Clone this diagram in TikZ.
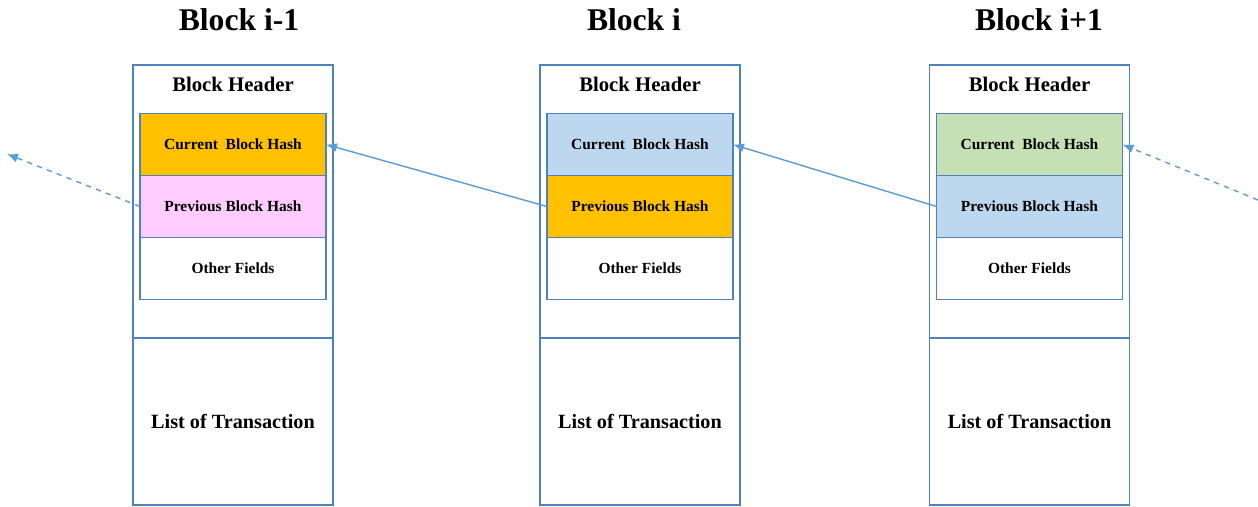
\documentclass[tikz,border=0pt]{standalone}
\usepackage{fontspec}
\setmainfont{Liberation Serif}
\usetikzlibrary{positioning,arrows.meta}

\definecolor{boxline}{HTML}{4F81BD}
\definecolor{linkline}{HTML}{5B9BD5}
\definecolor{orangefill}{HTML}{FFC000}
\definecolor{pinkfill}{HTML}{FFCCFF}
\definecolor{bluefill}{HTML}{BDD7EE}
\definecolor{greenfill}{HTML}{C5E0B4}

\tikzset{
    title/.style={font=\bfseries\fontsize{18}{20}\selectfont},
    headbox/.style={draw=boxline, line width=0.8pt, outer sep=0pt, minimum width=4cm, minimum height=5.46cm},
    txbox/.style={draw=boxline, line width=0.8pt, outer sep=0pt, minimum width=4cm, minimum height=3.34cm, font=\bfseries\fontsize{11.5}{13}\selectfont},
    headlabel/.style={font=\bfseries\fontsize{11.8}{13}\selectfont},
    field/.style={draw=boxline, line width=0.8pt, outer sep=0pt, minimum width=3.72cm, minimum height=1.24cm, inner sep=0pt, font=\bfseries\fontsize{8.8}{10}\selectfont},
    link/.style={draw=linkline, line width=0.8pt, -{Latex[length=2.2mm, width=1.8mm]}},
    dashlink/.style={link, dashed}
}

\begin{document}
\begin{tikzpicture}[x=0.02cm, y=-0.02cm]
    % the frame
    \useasboundingbox (0,0) rectangle (1258,507);

    % the blocks
    \foreach \n/\x/\tx/\cc/\pc/\lbl in {a/233/239/orangefill/pinkfill/i-1, b/640/634/bluefill/orangefill/i, c/1029.5/1039/greenfill/bluefill/i+1} {
        \node[title] (title\n) at (\tx, 20) {Block \lbl};
        \node[headbox] (head\n) at (\x, 201.5) {};
        \node[txbox, below=0pt of head\n] (tx\n) {List of Transaction};
        \node[headlabel] (label\n) at (\x, 84) {Block Header};
        \node[field, fill=\cc] (cur\n) at (\x, 144.5) {Current\ \ Block Hash};
        \node[field, fill=\pc, below=0pt of cur\n] (prev\n) {Previous Block Hash};
        \node[field, below=0pt of prev\n] (other\n) {Other Fields};
    };

    % arrows
    \coordinate (outleft) at (7, 154);
    \coordinate (inright) at (1258, 200);

    \draw[link] (prevb.west) -- (cura.east);
    \draw[link] (prevc.west) -- (curb.east);
    \draw[dashlink] (preva.west) -- (outleft);
    \draw[dashlink] (inright) -- (curc.east);
\end{tikzpicture}
\end{document}
